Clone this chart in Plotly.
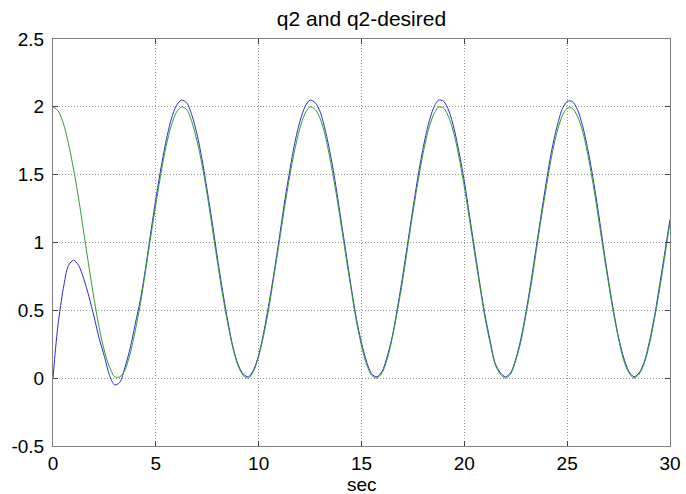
import plotly.graph_objects as go

# time (sec) samples for desired trajectory
t_desired = [i * 0.25 for i in range(121)]
q2_desired = [2.00, 1.97, 1.88, 1.73, 1.54, 1.32, 1.07, 0.82, 0.58, 0.37,
              0.20, 0.08, 0.01, 0.01, 0.06, 0.18, 0.35, 0.55, 0.79, 1.04,
              1.28, 1.51, 1.71, 1.86, 1.96, 2.00, 1.98, 1.89, 1.75, 1.57,
              1.35, 1.10, 0.85, 0.61, 0.40, 0.22, 0.09, 0.02, 0.00, 0.05,
              0.16, 0.32, 0.52, 0.76, 1.00, 1.25, 1.48, 1.68, 1.84, 1.95,
              2.00, 1.98, 1.91, 1.78, 1.59, 1.38, 1.14, 0.89, 0.65, 0.42,
              0.24, 0.10, 0.02, 0.00, 0.04, 0.14, 0.30, 0.50, 0.72, 0.97,
              1.22, 1.45, 1.66, 1.83, 1.94, 2.00, 1.99, 1.92, 1.80, 1.62,
              1.41, 1.17, 0.92, 0.68, 0.45, 0.26, 0.10, 0.03, 0.00, 0.03,
              0.13, 0.27, 0.47, 0.69, 0.94, 1.19, 1.42, 1.64, 1.81, 1.93,
              1.99, 1.99, 1.93, 1.82, 1.65, 1.44, 1.20, 0.95, 0.71, 0.48,
              0.29, 0.13, 0.04, 0.00, 0.03, 0.11, 0.25, 0.44, 0.66, 0.90,
              1.15]

# time (sec) samples for actual q2
t_actual = [0, 0.125] + [0.25 * i for i in range(1, 121)]
q2_actual = [0.00, 0.22,
             0.40, 0.66, 0.83, 0.87, 0.83, 0.73, 0.60, 0.45, 0.29, 0.16,
             0.02, -0.05, -0.03, 0.08, 0.22, 0.40, 0.58, 0.81, 1.07, 1.32,
             1.55, 1.75, 1.91, 2.01, 2.05, 2.03, 1.94, 1.80, 1.61, 1.38,
             1.14, 0.88, 0.64, 0.42, 0.23, 0.10, 0.03, 0.01, 0.06, 0.17,
             0.34, 0.55, 0.78, 1.03, 1.29, 1.52, 1.73, 1.89, 2.00, 2.05,
             2.03, 1.96, 1.82, 1.64, 1.42, 1.17, 0.92, 0.67, 0.44, 0.26,
             0.12, 0.03, 0.01, 0.05, 0.16, 0.31, 0.52, 0.75, 1.00, 1.25,
             1.49, 1.70, 1.87, 1.99, 2.05, 2.04, 1.97, 1.84, 1.66, 1.45,
             1.20, 0.95, 0.70, 0.47, 0.28, 0.11, 0.04, 0.01, 0.04, 0.14,
             0.29, 0.49, 0.72, 0.97, 1.22, 1.46, 1.68, 1.85, 1.98, 2.04,
             2.04, 1.98, 1.86, 1.69, 1.48, 1.24, 0.98, 0.73, 0.50, 0.30,
             0.15, 0.05, 0.01, 0.04, 0.12, 0.27, 0.46, 0.69, 0.93, 1.17]

x_ticks = [0, 5, 10, 15, 20, 25, 30]
y_ticks = [-0.5, 0, 0.5, 1, 1.5, 2, 2.5]
y_tick_text = ["-0.5", "0", "0.5", "1", "1.5", "2", "2.5"]

FONT = "Liberation Sans, Arial, sans-serif"

fig = go.Figure()
fig.add_trace(go.Scatter(x=t_actual, y=q2_actual, mode="lines",
                         line=dict(color="#2a2ad0", width=1, shape="spline", smoothing=0.8),
                         name="q2"))
fig.add_trace(go.Scatter(x=t_desired, y=q2_desired, mode="lines",
                         line=dict(color="#339933", width=1, shape="spline", smoothing=0.8),
                         name="q2-desired"))

axis_common = dict(
    showline=True, linecolor="#808080", linewidth=1, mirror="ticks",
    ticks="inside", ticklen=5, tickcolor="#404040",
    showgrid=True, gridcolor="#999999", griddash="1px,2px", gridwidth=1,
    zeroline=False, automargin=False,
    tickfont=dict(family=FONT, size=19, color="black"),
)

fig.update_layout(
    width=686, height=494,
    margin=dict(l=53, r=16, t=39, b=48),
    paper_bgcolor="white", plot_bgcolor="white",
    showlegend=False,
    title=dict(text="q2 and q2-desired", x=0.5, xref="paper", xanchor="center",
               y=1 - 19 / 494, yref="container", yanchor="middle",
               font=dict(family=FONT, size=21, color="black")),
    xaxis=dict(range=[0, 30], tickvals=x_ticks, ticklabelstandoff=0, **axis_common),
    yaxis=dict(range=[-0.5, 2.5], tickvals=y_ticks, ticktext=y_tick_text,
               ticklabelstandoff=4, **axis_common),
    annotations=[dict(text="sec", x=0.5, xref="paper", y=-38 / 407, yref="paper",
                      xanchor="center", yanchor="middle", showarrow=False,
                      font=dict(family=FONT, size=19, color="black"))],
)

fig.write_html("out.html")
